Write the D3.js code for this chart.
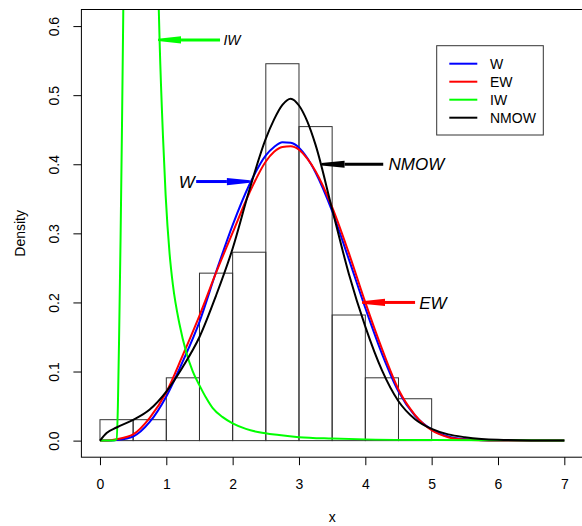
<!DOCTYPE html>
<html>
<head>
<meta charset="utf-8">
<script src="https://cdn.jsdelivr.net/npm/d3@7"></script>
<style>
  body { margin: 0; background: #fff; }
  text { font-family: "Liberation Sans", Arial, sans-serif; }
</style>
</head>
<body>
<script>
'use strict';

// histogram: bin starts (width 0.5) and density heights
var binStarts  = [0, 0.5, 1, 1.5, 2, 2.5, 3, 3.5, 4, 4.5];
var binDensity = [0.0303, 0.0303, 0.0909, 0.2424, 0.2727, 0.5455, 0.4545, 0.1818, 0.0909, 0.0606];

// fitted densities
var gridX = [0, 0.1, 0.25, 0.5, 0.75, 1, 1.25, 1.5, 1.75, 2, 2.25, 2.5, 2.625, 2.75, 2.875,
             3, 3.125, 3.25, 3.5, 3.75, 4, 4.25, 4.5, 4.75, 5, 5.25, 5.5, 5.75, 6, 6.5, 7];
var wDens    = [0, 0, 0.001, 0.006, 0.027, 0.064, 0.115, 0.172, 0.244, 0.312, 0.37, 0.413, 0.425,
                0.432, 0.431, 0.424, 0.409, 0.388, 0.332, 0.263, 0.192, 0.126, 0.071, 0.036,
                0.016, 0.006, 0.002, 0.0006, 0.0001, 0, 0];
var ewDens   = [0, 0.0001, 0.002, 0.009, 0.033, 0.07, 0.124, 0.181, 0.243, 0.301, 0.358, 0.404,
                0.418, 0.425, 0.426, 0.421, 0.408, 0.39, 0.338, 0.272, 0.2, 0.133, 0.074, 0.037,
                0.015, 0.005, 0.0015, 0.0004, 0.0001, 0, 0];
var nmowDens = [0, 0.011, 0.019, 0.030, 0.045, 0.071, 0.107, 0.15, 0.21, 0.278, 0.362, 0.437,
                0.465, 0.486, 0.495, 0.485, 0.462, 0.428, 0.335, 0.242, 0.165, 0.102, 0.057,
                0.031, 0.017, 0.009, 0.005, 0.0025, 0.0012, 0.0003, 0.0001];

// inverse Weibull goes far above the top of the plot
var iwX    = [0, 0.2, 0.25, 0.27, 0.29, 0.31, 0.33, 0.35, 0.37, 0.55, 0.86, 0.885, 0.9, 0.95,
              0.99, 1.05, 1.1, 1.2, 1.3, 1.4, 1.5, 1.6, 1.7, 1.85, 2, 2.2, 2.4, 2.7, 3, 3.5,
              4, 5, 6, 7];
var iwDens = [0, 0, 0.002, 0.05, 0.16, 0.29, 0.44, 0.61, 0.82, 2.5, 0.75, 0.63, 0.575, 0.44,
              0.355, 0.27, 0.225, 0.168, 0.128, 0.1, 0.08, 0.062, 0.047, 0.034, 0.025, 0.017,
              0.012, 0.008, 0.005, 0.003, 0.0018, 0.0008, 0.0004, 0.0002];

var xTicks = [0, 1, 2, 3, 4, 5, 6, 7];
var yTicks = [0, 0.1, 0.2, 0.3, 0.4, 0.5, 0.6];

var legendNames  = ["W", "EW", "IW", "NMOW"];
var legendColors = ["#0000ff", "#ff0000", "#00ff00", "#000000"];

// annotation arrows: [label, from x, to x, y, label x, colour, font size]
var arrowNotes = [
    ["IW",   1.81, 0.875, 0.58,  1.99, "#00ff00", 14],
    ["W",    1.45, 2.26,  0.375, 1.31, "#0000ff", 17],
    ["NMOW", 4.27, 3.34,  0.40,  4.77, "#000000", 17],
    ["EW",   4.75, 3.95,  0.20,  5.02, "#ff0000", 17]
];

var W = 582, H = 526;
var pLeft = 81.4, pRight = 582.9, pTop = 9.5, pBottom = 457.2;

var svg = d3.select("body").append("svg")
    .attr("width", W).attr("height", H);

var x = d3.scaleLinear().domain([-0.28, 7.28]).range([pLeft, pRight]);
var y = d3.scaleLinear().domain([-0.024, 0.624]).range([pBottom, pTop]);

svg.append("defs").append("clipPath").attr("id", "plotclip")
    .append("rect")
    .attr("x", pLeft).attr("y", pTop)
    .attr("width", pRight - pLeft).attr("height", pBottom - pTop);

// histogram bars
svg.append("g").selectAll("rect")
    .data(binStarts)
    .enter().append("rect")
    .attr("x", function(d) { return x(d); })
    .attr("y", function(d, i) { return y(binDensity[i]); })
    .attr("width", function(d) { return x(d + 0.5) - x(d); })
    .attr("height", function(d, i) { return y(0) - y(binDensity[i]); })
    .attr("fill", "none")
    .attr("stroke", "#333")
    .attr("stroke-width", 1);

var line = d3.line()
    .x(function(d) { return x(d[0]); })
    .y(function(d) { return y(d[1]); })
    .curve(d3.curveMonotoneX);

function drawCurve(xs, ys, color) {
    svg.append("path")
        .attr("clip-path", "url(#plotclip)")
        .datum(xs.map(function(v, i) { return [v, ys[i]]; }))
        .attr("fill", "none")
        .attr("stroke", color)
        .attr("stroke-width", 2)
        .attr("d", line);
}

drawCurve(gridX, wDens, "#0000ff");
drawCurve(gridX, ewDens, "#ff0000");
drawCurve(iwX, iwDens, "#00ff00");
drawCurve(gridX, nmowDens, "#000000");

// arrows with a long narrow head
arrowNotes.forEach(function(a) {
    var x0 = x(a[1]), x1 = x(a[2]), yy = y(a[3]);
    var dir = x1 > x0 ? 1 : -1;
    var hl = 23;
    svg.append("line")
        .attr("x1", x0).attr("y1", yy)
        .attr("x2", x1 - dir * hl).attr("y2", yy)
        .attr("stroke", a[5]).attr("stroke-width", 3);
    svg.append("polygon")
        .attr("points", [
            [x1, yy - 1.2], [x1 - dir * hl, yy - 3.6],
            [x1 - dir * hl, yy + 3.6], [x1, yy + 1.2]
        ].join(" "))
        .attr("fill", a[5]);
    svg.append("text")
        .attr("x", x(a[4])).attr("y", yy)
        .attr("dy", "0.36em")
        .attr("text-anchor", "middle")
        .style("font-style", "italic")
        .style("font-size", a[6] + "px")
        .text(a[0]);
});

// axes
var xAxis = svg.append("g")
    .attr("transform", "translate(0," + pBottom + ")")
    .call(d3.axisBottom(x).tickValues(xTicks).tickSize(8).tickPadding(14)
        .tickFormat(d3.format("d")));
var yAxis = svg.append("g")
    .attr("transform", "translate(" + pLeft + ",0)")
    .call(d3.axisLeft(y).tickValues(yTicks).tickSize(8)
        .tickFormat(d3.format(".1f")));

[xAxis, yAxis].forEach(function(g) {
    g.select(".domain").remove();
    g.selectAll(".tick line").attr("stroke", "#000");
    g.selectAll(".tick text")
        .attr("fill", "#000")
        .style("font-size", "14px")
        .style("font-family", "'Liberation Sans', Arial, sans-serif");
});

yAxis.selectAll(".tick text")
    .attr("transform", "rotate(-90)")
    .attr("x", 0).attr("y", -27)
    .attr("dy", "0.36em")
    .style("text-anchor", "middle");

// plot box
svg.append("rect")
    .attr("x", pLeft).attr("y", pTop)
    .attr("width", pRight - pLeft).attr("height", pBottom - pTop)
    .attr("fill", "none").attr("stroke", "#000").attr("stroke-width", 1);

// axis titles
svg.append("text")
    .attr("x", (pLeft + pRight) / 2).attr("y", 522)
    .attr("text-anchor", "middle")
    .style("font-size", "14px")
    .text("x");

svg.append("text")
    .attr("transform", "translate(25," + ((pTop + pBottom) / 2) + ") rotate(-90)")
    .attr("text-anchor", "middle")
    .style("font-size", "14px")
    .text("Density");

// legend
var lg = svg.append("g");
lg.append("rect")
    .attr("x", 436.7).attr("y", 45.7)
    .attr("width", 106.6).attr("height", 89.3)
    .attr("fill", "#fff").attr("stroke", "#333").attr("stroke-width", 1);

legendNames.forEach(function(name, i) {
    var ly = 63.7 + i * 18;
    lg.append("line")
        .attr("x1", 449.3).attr("x2", 477.3)
        .attr("y1", ly).attr("y2", ly)
        .attr("stroke", legendColors[i]).attr("stroke-width", 2);
    lg.append("text")
        .attr("x", 490).attr("y", ly)
        .attr("dy", "0.36em")
        .style("font-size", "14px")
        .text(name);
});
</script>
</body>
</html>
